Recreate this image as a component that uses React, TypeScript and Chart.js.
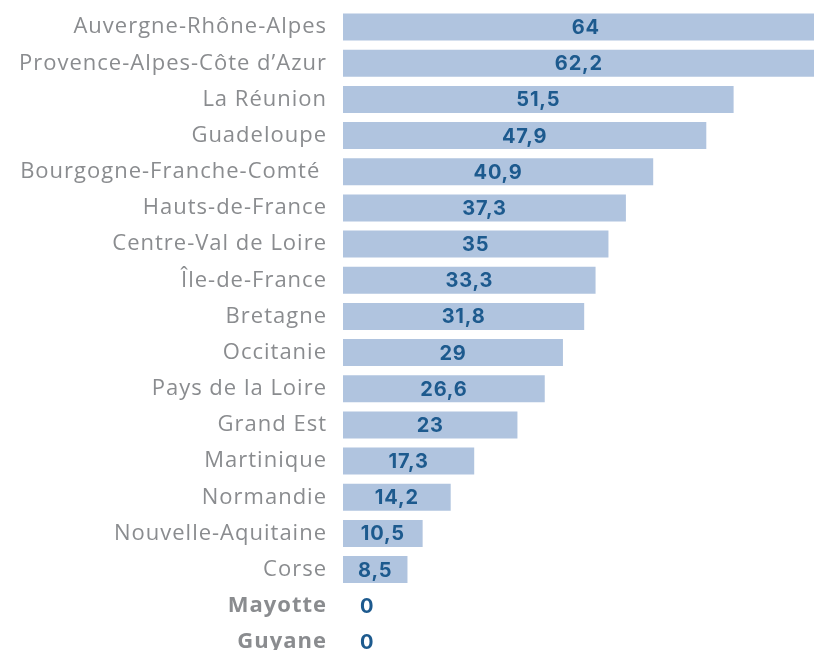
import React, { useEffect, useRef } from "react";
import { Chart, registerables } from "chart.js";

Chart.register(...registerables);

const categories: string[] = [
  "Auvergne-Rhône-Alpes",
  "Provence-Alpes-Côte d’Azur",
  "La Réunion",
  "Guadeloupe",
  "Bourgogne-Franche-Comté ",
  "Hauts-de-France",
  "Centre-Val de Loire",
  "Île-de-France",
  "Bretagne",
  "Occitanie",
  "Pays de la Loire",
  "Grand Est",
  "Martinique",
  "Normandie",
  "Nouvelle-Aquitaine",
  "Corse",
  "Mayotte",
  "Guyane",
];

const values: number[] = [64, 62.2, 51.5, 47.9, 40.9, 37.3, 35, 33.3, 31.8, 29, 26.6, 23, 17.3, 14.2, 10.5, 8.5, 0, 0];

const boldCategories: string[] = ["Mayotte", "Guyane"];

const BAR_COLOR = "#b0c4df";
const VALUE_COLOR = "#1d5a8e";
const LABEL_COLOR = "#8a8c8f";
const FONT = "'Open Sans', sans-serif";
const VALUE_FONT = "Inter, 'Open Sans', sans-serif";

const spacing = {
  id: "spacing",
  beforeDraw(chart: any) {
    (chart.ctx as any).letterSpacing = "1px";
  },
};

const valueLabels = {
  id: "valueLabels",
  afterDatasetsDraw(chart: any) {
    const ctx = chart.ctx;
    const meta = chart.getDatasetMeta(0);
    const xScale = chart.scales.x;
    ctx.save();
    (ctx as any).letterSpacing = "0.8px";
    ctx.fillStyle = VALUE_COLOR;
    ctx.font = `bold 20px ${VALUE_FONT}`;
    ctx.textBaseline = "middle";
    meta.data.forEach((bar: any, i: number) => {
      const v = values[i];
      const text = String(v).replace(".", ",");
      const base = xScale.getPixelForValue(0);
      const end = xScale.getPixelForValue(v);
      if (v === 0) {
        ctx.textAlign = "left";
        ctx.fillText(text, base + 17, bar.y + 1);
      } else {
        ctx.textAlign = "center";
        ctx.fillText(text, (base + end) / 2, bar.y + 1);
      }
    });
    ctx.restore();
  },
};

export default function App() {
  const canvasRef = useRef<HTMLCanvasElement | null>(null);

  useEffect(() => {
    if (!canvasRef.current) return;
    const chart = new Chart(canvasRef.current, {
      type: "bar",
      data: {
        labels: categories,
        datasets: [
          {
            data: values,
            backgroundColor: BAR_COLOR,
            borderWidth: 0,
            barPercentage: 0.746,
            categoryPercentage: 1,
          },
        ],
      },
      options: {
        indexAxis: "y",
        animation: false,
        responsive: false,
        layout: { padding: { top: 9, right: 0, left: 0, bottom: 0 } },
        plugins: {
          legend: { display: false },
          tooltip: { enabled: false },
        },
        scales: {
          x: {
            display: false,
            min: 0,
            max: 62.1,
          },
          y: {
            grid: { display: false, drawTicks: false },
            border: { display: false },
            afterFit(scale: any) {
              scale.width = 343;
              scale.paddingTop = 0;
              scale.paddingBottom = 0;
            },
            ticks: {
              padding: 16,
              autoSkip: false,
              color: LABEL_COLOR,
              font: (c: any) => ({
                family: FONT,
                size: 22,
                weight: boldCategories.includes(categories[c.index]) ? "bold" : "normal",
              }),
            },
          },
        },
      },
      plugins: [spacing, valueLabels],
    });
    return () => chart.destroy();
  }, []);

  return (
    <div style={{ position: "fixed", left: 0, top: 0, width: 814, height: 660, background: "#fff" }}>
      <canvas ref={canvasRef} width={814} height={660} style={{ display: "block" }} />
    </div>
  );
}
